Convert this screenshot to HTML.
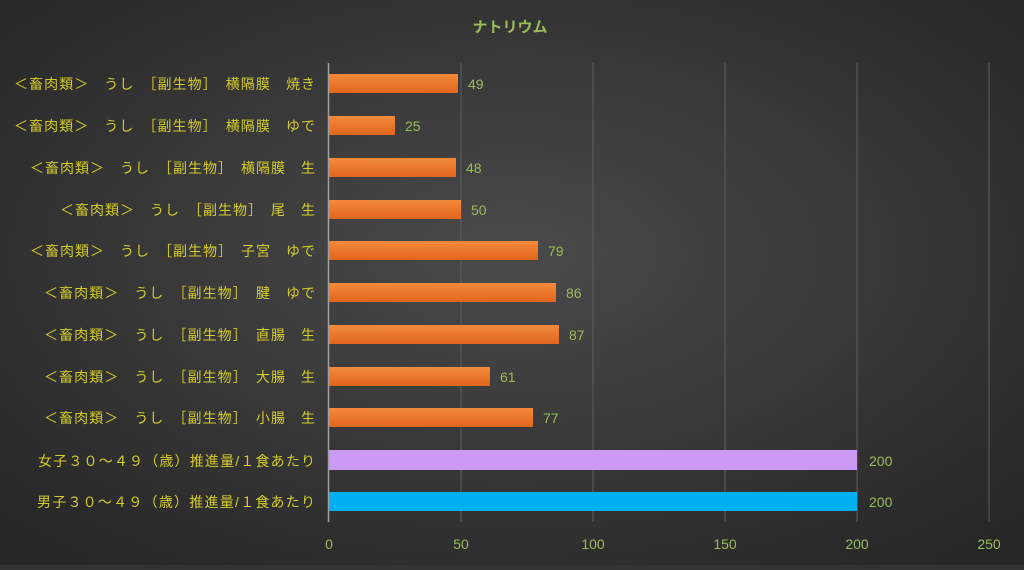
<!DOCTYPE html>
<html><head><meta charset="utf-8"><style>
html,body{margin:0;padding:0;}
body{width:1024px;height:565px;overflow:hidden;background:#333;}
</style></head><body>
<svg width="1024" height="565" xmlns="http://www.w3.org/2000/svg" font-family="Liberation Sans, Noto Sans CJK JP, sans-serif">
<defs>
<radialGradient id="bg" cx="50%" cy="45%" r="70%">
<stop offset="0" stop-color="#4a4a4a"/><stop offset="1" stop-color="#262626"/>
</radialGradient>
<linearGradient id="or" x1="0" y1="0" x2="0" y2="1">
<stop offset="0" stop-color="#f58a3c"/><stop offset="1" stop-color="#e0661c"/>
</linearGradient>
</defs>
<rect width="1024" height="565" fill="url(#bg)"/>
<text x="510" y="32" fill="#9bbb59" font-size="15" font-weight="bold" text-anchor="middle">ナトリウム</text>
<g stroke="#5e5e5e" stroke-width="1">
<line x1="461" y1="63" x2="461" y2="522"/><line x1="593" y1="63" x2="593" y2="522"/>
<line x1="725" y1="63" x2="725" y2="522"/><line x1="857" y1="63" x2="857" y2="522"/>
<line x1="989" y1="63" x2="989" y2="522"/>
</g>
<g fill="url(#or)">
<rect x="329" y="74" width="129" height="19"/>
<rect x="329" y="116" width="66" height="19"/>
<rect x="329" y="158" width="127" height="19"/>
<rect x="329" y="200" width="132" height="19"/>
<rect x="329" y="241" width="209" height="19"/>
<rect x="329" y="283" width="227" height="19"/>
<rect x="329" y="325" width="230" height="19"/>
<rect x="329" y="367" width="161" height="19"/>
<rect x="329" y="408" width="204" height="19"/>
</g>
<rect x="329" y="450" width="528" height="20" fill="#cc99f5"/>
<rect x="329" y="492" width="528" height="19" fill="#00b0f0"/>
<line x1="328.5" y1="63" x2="328.5" y2="522" stroke="#a0a0a0" stroke-width="1.5"/>
<g fill="#9bbb59" font-size="14">
<text x="468" y="89">49</text><text x="405" y="131">25</text><text x="466" y="173">48</text>
<text x="471" y="215">50</text><text x="548" y="256">79</text><text x="566" y="298">86</text>
<text x="569" y="340">87</text><text x="500" y="382">61</text><text x="543" y="423">77</text>
<text x="869" y="466">200</text><text x="869" y="507">200</text>
</g>
<g fill="#9bbb59" font-size="14" text-anchor="middle">
<text x="329" y="549">0</text><text x="461" y="549">50</text><text x="593" y="549">100</text>
<text x="725" y="549">150</text><text x="857" y="549">200</text><text x="989" y="549">250</text>
</g>
<g fill="#d4cc2a" font-size="14" lengthAdjust="spacing">
<text x="14" y="89" textLength="301" lengthAdjust="spacing">＜畜肉類＞　うし　［副生物］　横隔膜　焼き</text>
<text x="14" y="131" textLength="301" lengthAdjust="spacing">＜畜肉類＞　うし　［副生物］　横隔膜　ゆで</text>
<text x="30" y="173" textLength="285" lengthAdjust="spacing">＜畜肉類＞　うし　［副生物］　横隔膜　生</text>
<text x="60" y="215" textLength="255" lengthAdjust="spacing">＜畜肉類＞　うし　［副生物］　尾　生</text>
<text x="30" y="256" textLength="285" lengthAdjust="spacing">＜畜肉類＞　うし　［副生物］　子宮　ゆで</text>
<text x="44" y="298" textLength="271" lengthAdjust="spacing">＜畜肉類＞　うし　［副生物］　腱　ゆで</text>
<text x="44" y="340" textLength="271" lengthAdjust="spacing">＜畜肉類＞　うし　［副生物］　直腸　生</text>
<text x="44" y="382" textLength="271" lengthAdjust="spacing">＜畜肉類＞　うし　［副生物］　大腸　生</text>
<text x="44" y="423" textLength="271" lengthAdjust="spacing">＜畜肉類＞　うし　［副生物］　小腸　生</text>
<text x="38" y="466" textLength="277" lengthAdjust="spacing">女子３０～４９（歳）推進量/１食あたり</text>
<text x="37" y="507" textLength="278" lengthAdjust="spacing">男子３０～４９（歳）推進量/１食あたり</text>
</g>
</svg>
</body></html>
